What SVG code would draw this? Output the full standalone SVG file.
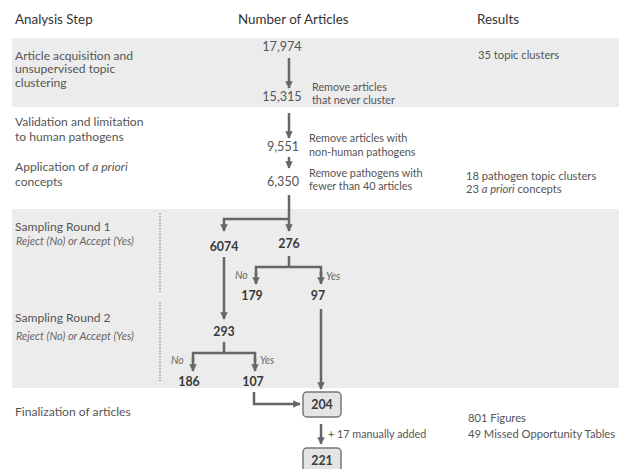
<svg xmlns="http://www.w3.org/2000/svg" width="619" height="469" viewBox="0 0 619 469">
<style>
text{font-family:Lato,"Open Sans","Liberation Sans",sans-serif;fill:#555;font-size:11.2px}
.h{fill:#333;font-size:13.4px}
.st{font-size:12.1px}
.sm{font-size:11px;font-style:italic;fill:#666}
.nt{font-size:10.8px}
.n{text-anchor:middle;font-size:12.6px}
.b{text-anchor:middle;font-weight:bold;font-size:12.4px;fill:#3a3a3a}
.lbl{font-style:italic;font-size:10.5px;fill:#666}
.band{fill:#ececec}
.c{stroke:#666;stroke-width:2.5;fill:none}
.dot{stroke:#777;stroke-width:1;stroke-dasharray:1.5 1.5}
.box{fill:#e4e4e4;stroke:#777;stroke-width:1.5}
</style>
<defs>
<marker id="ah" viewBox="0 0 10 10" refX="9" refY="5" markerWidth="3" markerHeight="3" orient="auto" markerUnits="strokeWidth">
<path d="M0,0 L10,5 L0,10 z" fill="#666"/>
</marker>
</defs>
<rect width="619" height="469" fill="#fff"/>
<rect class="band" x="12" y="38" width="607" height="69"/>
<rect class="band" x="12" y="209" width="607" height="179"/>
<line class="dot" x1="160" y1="213" x2="160" y2="292"/>
<line class="dot" x1="160" y1="302" x2="160" y2="383"/>

<g id="headers">
<text class="h" x="15" y="24">Analysis Step</text>
<text class="h" x="238" y="24">Number of Articles</text>
<text class="h" x="477" y="24">Results</text>
</g>

<g id="steps">
<text class="st" x="15" y="59.5">Article acquisition and</text>
<text class="st" x="15" y="73">unsupervised topic</text>
<text class="st" x="15" y="86.5">clustering</text>
<text class="st" x="15" y="126">Validation and limitation</text>
<text class="st" x="15" y="141">to human pathogens</text>
<text class="st" x="15" y="171">Application of <tspan font-style="italic">a priori</tspan></text>
<text class="st" x="15" y="186">concepts</text>
<text class="st" x="15" y="231">Sampling Round 1</text>
<text class="sm" x="16" y="245">Reject (No)  or Accept (Yes)</text>
<text class="st" x="15" y="322">Sampling Round 2</text>
<text class="sm" x="16" y="340">Reject (No) or Accept (Yes)</text>
<text class="st" x="15" y="416">Finalization of articles</text>
</g>

<g id="results">
<text x="478" y="59">35 topic clusters</text>
<text x="466" y="180">18 pathogen topic clusters</text>
<text x="466" y="193">23 <tspan font-style="italic">a priori</tspan> concepts</text>
<text x="468" y="422" fill="#333">801 Figures</text>
<text x="468" y="438" fill="#333">49 Missed Opportunity Tables</text>
</g>

<g id="connectors">
<line class="c" x1="289" y1="58" x2="289" y2="88" marker-end="url(#ah)"/>
<line class="c" x1="289" y1="113" x2="289" y2="138" marker-end="url(#ah)"/>
<line class="c" x1="289" y1="157" x2="289" y2="168" marker-end="url(#ah)"/>
<polyline class="c" points="289,195 289,219"/>
<polyline class="c" points="289,219 224,219 224,231" marker-end="url(#ah)"/>
<line class="c" x1="289" y1="219" x2="289" y2="231" marker-end="url(#ah)"/>
<line class="c" x1="289" y1="256" x2="289" y2="267"/>
<polyline class="c" points="256,276 256,267 321,267 321,276"/>
<line class="c" x1="256" y1="272" x2="256" y2="284" marker-end="url(#ah)"/>
<line class="c" x1="321" y1="272" x2="321" y2="284" marker-end="url(#ah)"/>
<line class="c" x1="224" y1="257" x2="224" y2="319" marker-end="url(#ah)"/>
<line class="c" x1="224" y1="342" x2="224" y2="353"/>
<polyline class="c" points="193,362 193,353 255,353 255,362"/>
<line class="c" x1="193" y1="358" x2="193" y2="371" marker-end="url(#ah)"/>
<line class="c" x1="255" y1="358" x2="255" y2="371" marker-end="url(#ah)"/>
<polyline class="c" points="254,392 254,404 300,404" marker-end="url(#ah)"/>
<line class="c" x1="321" y1="309" x2="321" y2="389" marker-end="url(#ah)"/>
<line class="c" x1="321" y1="424" x2="321" y2="444" marker-end="url(#ah)"/>
</g>

<g id="counts">
<text class="n" x="282" y="51">17,974</text>
<text class="n" x="282" y="101">15,315</text>
<text class="n" x="283" y="151">9,551</text>
<text class="n" x="283" y="186">6,350</text>
<text class="b" x="224" y="251">6074</text>
<text class="b" x="289" y="248">276</text>
<text class="b" x="252" y="300">179</text>
<text class="b" x="318" y="300">97</text>
<text class="b" x="224" y="336">293</text>
<text class="b" x="189" y="386">186</text>
<text class="b" x="253" y="386">107</text>
</g>

<g id="notes">
<text class="nt" x="312" y="91">Remove articles</text>
<text class="nt" x="312" y="104">that never cluster</text>
<text class="nt" x="309" y="142">Remove articles with</text>
<text class="nt" x="309" y="156">non-human pathogens</text>
<text class="nt" x="309" y="177">Remove pathogens with</text>
<text class="nt" x="309" y="190">fewer than 40 articles</text>
<text class="lbl" x="235" y="279">No</text>
<text class="lbl" x="326" y="280">Yes</text>
<text class="lbl" x="171" y="364">No</text>
<text class="lbl" x="260" y="364">Yes</text>
<text class="nt" x="328" y="438">+ 17 manually added</text>
</g>

<g id="box204">
<rect class="box" x="303" y="392" width="38" height="25" rx="4"/>
<text class="b" x="322" y="408.5">204</text>
</g>
<g id="box221">
<rect class="box" x="303" y="448" width="38" height="25" rx="4"/>
<text class="b" x="322" y="465">221</text>
</g>
</svg>
